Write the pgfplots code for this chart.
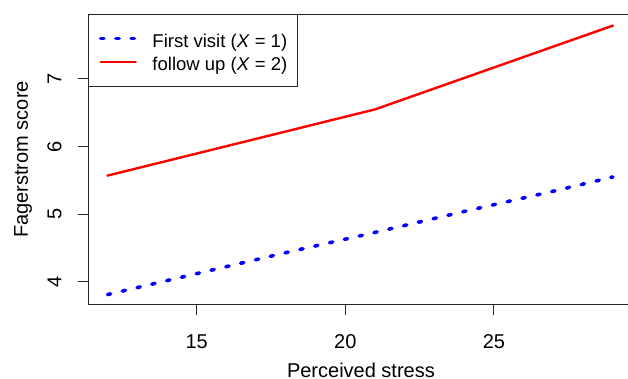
\documentclass[border=0pt]{standalone}
\usepackage{fontspec}
\setmainfont{Liberation Sans}
\usepackage{pgfplots}
\pgfplotsset{compat=1.18}
\begin{document}
\fontsize{20bp}{24bp}\selectfont
\begin{tikzpicture}
\useasboundingbox (-88.3bp,-74.3bp) rectangle (539.7bp,304.7bp);
\begin{axis}[
  at={(0,0)}, anchor=south west,
  scale only axis, width=545.3bp, height=290.4bp,
  xmin=11.354, xmax=29.696, ymin=3.660, ymax=7.957,
  xtick={15,20,25}, ytick={4,5,6,7},
  tick align=outside, xtick pos=bottom, ytick pos=left,
  major tick length=10.5bp,
  axis line style={black!85, line width=1bp},
  every tick/.style={black!85, line width=1bp},
  /pgf/number format/assume math mode=true,
  xticklabel style={anchor=base, yshift=-32.8bp},
  yticklabel style={xshift=-16.3bp, rotate=90, anchor=base},
  every axis x label/.style={at={(rel axis cs:0.5,0)}, yshift=-72.3bp, anchor=base, inner sep=0pt},
  every axis y label/.style={at={(rel axis cs:0,0.5)}, xshift=-60.5bp, rotate=90, anchor=base, inner sep=0pt},
  xlabel={Perceived stress}, ylabel={Fagerstrom score},
  legend style={at={(0,1)}, anchor=north west, draw=black!85, line width=1bp, fill=white,
    font=\fontsize{18.5bp}{22bp}\selectfont,
    inner xsep=10.1bp, inner ysep=12.4bp, row sep=-0.3bp, column sep=15bp,
    nodes={inner sep=0pt, text height=20bp, text depth=3.6bp}, cells={anchor=base west}},
  legend image code/.code={\draw[#1] (0bp,8.7bp) -- (35bp,8.7bp);},
]
\addplot[blue, mark=none, line width=3.6bp, dash pattern=on 3.2bp off 12bp, line cap=round]
  coordinates {(12,3.81) (15,4.12) (18,4.43) (21,4.73) (24,5.04) (27,5.34) (29,5.55)};
\addlegendentry{First visit (\textit{X} = 1)}
\addplot[red, mark=none, line width=2.4bp, line cap=round, line join=round]
  coordinates {(12,5.57) (21,6.55) (29,7.79)};
\addlegendentry{follow up (\textit{X} = 2)}
\end{axis}
\end{tikzpicture}
\end{document}
